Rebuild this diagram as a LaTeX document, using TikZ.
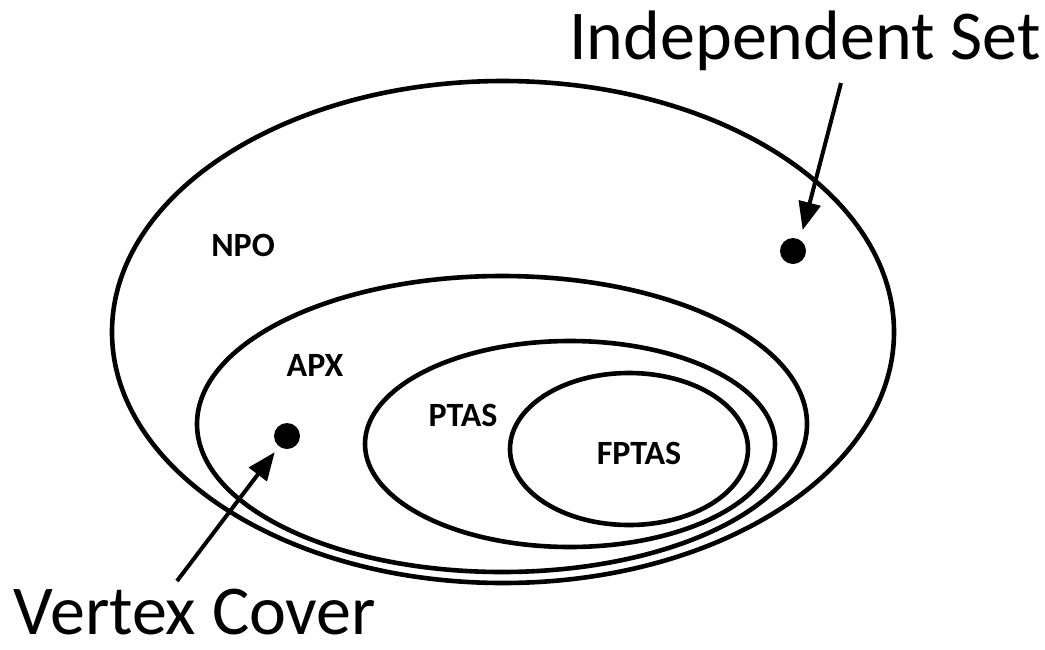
\documentclass[tikz,border=0pt]{standalone}
\usepackage{fontspec}
\setmainfont{Carlito}
\usetikzlibrary{arrows.meta}
\tikzset{
every picture/.style={
line width=2.3pt
}}

\begin{document}
\begin{tikzpicture}[x=0.5pt, y=-0.5pt,
  dot/.style={circle, fill, inner sep=0pt, minimum size=13pt},
  cls/.style={font=\fontsize{17}{17}\selectfont\bfseries},
  big/.style={font=\fontsize{35}{35}\selectfont, anchor=base, inner sep=0pt},
  pointer/.style={-{Triangle[length=14pt,width=11pt]}, line width=2pt}]
\useasboundingbox (0,0) rectangle (1045,649);

\foreach \cx/\cy/\rx/\ry in {503/332/391/251, 502/424/305/148, 570/444/205/103, 629/449/119/76}{
  \draw (\cx,\cy) ellipse [x radius=\rx, y radius=\ry];
}

\node[cls] (npo) at (243,245) {NPO};
\node[cls] (apx) at (315,365) {APX};
\node[cls] (ptas) at (463,415) {PTAS};
\node[cls] (fptas) at (639,453) {FPTAS};

\node[dot] (is) at (793,251) {};
\node[dot] (vc) at (287,436) {};

\node[big] (istext) at (805,59) {Independent Set};
\node[big] (vctext) at (195,634) {Vertex Cover};

\coordinate (isfrom) at (841,83);
\coordinate (vcfrom) at (177,581);
\draw[pointer, shorten >=4pt] (isfrom) -- (is.60);
\draw[pointer, shorten >=2.5pt] (vcfrom) -- (vc);

\end{tikzpicture}
\end{document}
